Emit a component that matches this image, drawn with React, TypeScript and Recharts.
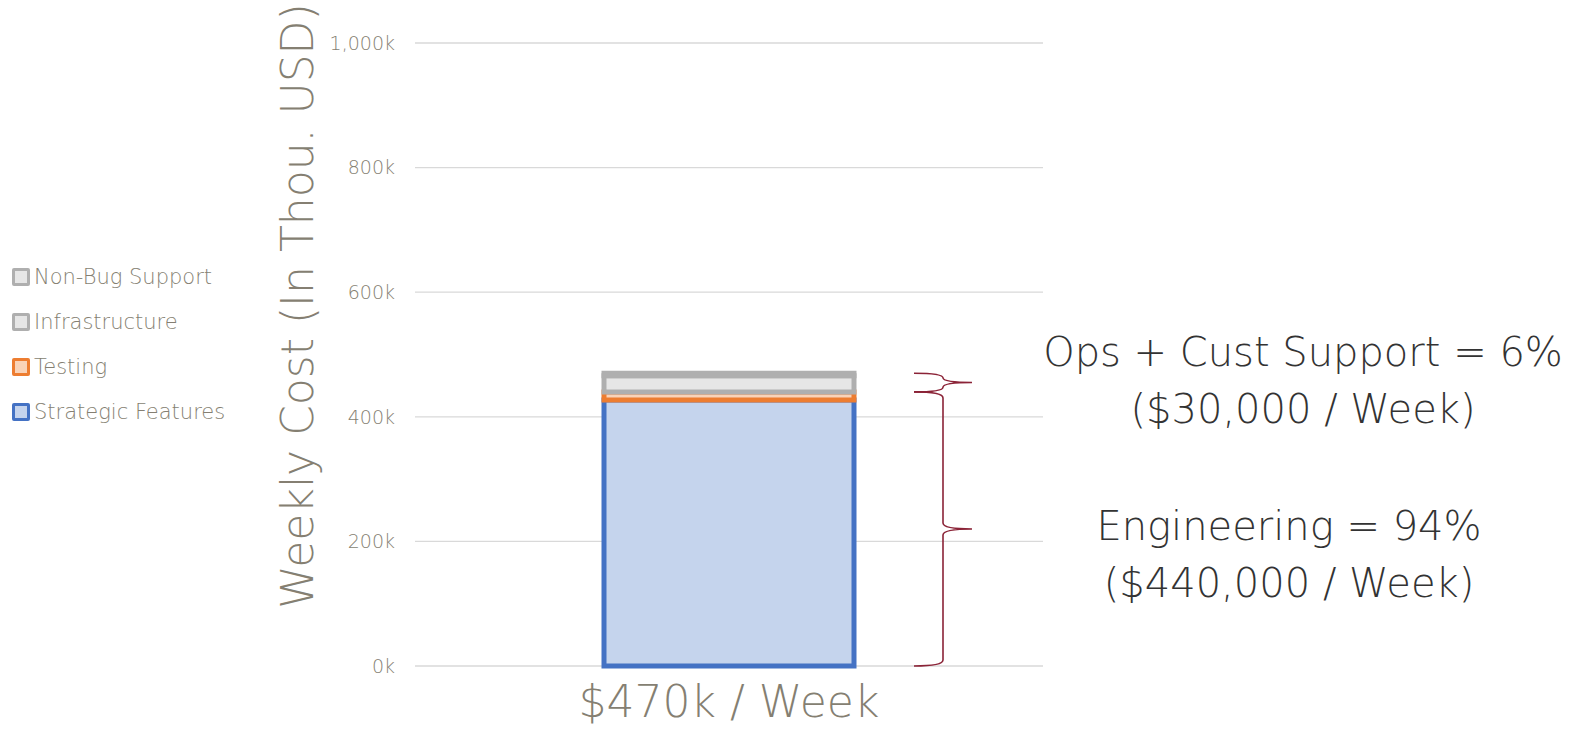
import React from "react";
import {
  BarChart,
  Bar,
  XAxis,
  YAxis,
  CartesianGrid,
  ReferenceArea,
} from "recharts";

const categories = ["$470k / Week"];
const strategicFeatures = [427];
const testing = [13];
const infrastructure = [26];
const nonBugSupport = [4];
const yTicks = [0, 200, 400, 600, 800, 1000];

const series = [
  { key: "strategic", name: "Strategic Features", values: strategicFeatures, stroke: "#4472c4", fill: "#c5d4ed" },
  { key: "testing", name: "Testing", values: testing, stroke: "#ed7d31", fill: "#f9d3b8" },
  { key: "infra", name: "Infrastructure", values: infrastructure, stroke: "#afafaf", fill: "#e6e6e6" },
  { key: "nonbug", name: "Non-Bug Support", values: nonBugSupport, stroke: "#afafaf", fill: "#e6e6e6" },
];

const data = categories.map((c, i) => {
  const row: Record<string, string | number> = { cat: c };
  series.forEach((s) => (row[s.key] = s.values[i]));
  return row;
});

const total = series.reduce((a, s) => a + s.values[0], 0);
const engineering = strategicFeatures[0] + testing[0];

const FONT = "'DejaVu Sans', sans-serif";
const WEIGHT = 200;
const GREY_TEXT = "#857f72";
const BRACE = "#8b2337";

function bracePath(x0: number, xm: number, xt: number, y1: number, y2: number) {
  const ym = (y1 + y2) / 2;
  const r = Math.min(6, (y2 - y1) / 4);
  return [
    `M ${x0} ${y1}`,
    `Q ${xm} ${y1} ${xm} ${y1 + r}`,
    `L ${xm} ${ym - r}`,
    `Q ${xm} ${ym} ${xt} ${ym}`,
    `Q ${xm} ${ym} ${xm} ${ym + r}`,
    `L ${xm} ${y2 - r}`,
    `Q ${xm} ${y2} ${x0} ${y2}`,
  ].join(" ");
}

// brace on the right of the plot plus its note text
function makeBrace(lines: string[], offsets: number[], textDx: number) {
  return (props: any) => {
    const { x, y, width, height } = props;
    const right = x + width;
    const x0 = right - 129;
    const xm = right - 100;
    const xt = right - 71;
    const ym = y + height / 2;
    return (
      <g>
        <path d={bracePath(x0, xm, xt, y, y + height)} fill="none" stroke={BRACE} strokeWidth={1.6} />
        {lines.map((t, i) => (
          <text
            key={i}
            x={right + textDx}
            y={ym + offsets[i]}
            textAnchor="middle"
            fontFamily={FONT}
            fontWeight={WEIGHT}
            fontSize={40}
            fill="#333333"
          >
            {t}
          </text>
        ))}
      </g>
    );
  };
}

function ChartLegend() {
  const items = [...series].reverse();
  return (
    <div style={{ position: "absolute", left: 12, top: 254, fontFamily: FONT, fontWeight: WEIGHT }}>
      {items.map((s) => (
        <div key={s.key} style={{ display: "flex", alignItems: "center", height: 45 }}>
          <span
            style={{
              width: 12,
              height: 12,
              border: `3px solid ${s.stroke}`,
              background: s.fill,
              borderRadius: 2,
              marginRight: 4,
            }}
          />
          <span style={{ fontSize: 21, color: GREY_TEXT }}>{s.name}</span>
        </div>
      ))}
    </div>
  );
}

export default function App() {
  return (
    <div style={{ position: "absolute", left: 0, top: 0, width: 1569, height: 729, background: "#fff" }}>
      <BarChart
        width={1569}
        height={729}
        data={data}
        margin={{ top: 43, right: 526, bottom: 0, left: 325 }}
      >
        <CartesianGrid vertical={false} stroke="#d9d9d9" strokeWidth={1.3} />
        <XAxis
          dataKey="cat"
          height={63}
          axisLine={false}
          tickLine={false}
          tickMargin={14}
          tick={{ fontSize: 44, fill: GREY_TEXT, fontFamily: FONT, fontWeight: WEIGHT }}
        />
        <YAxis
          width={90}
          domain={[0, 1000]}
          ticks={yTicks}
          axisLine={false}
          tickLine={false}
          tickSize={0}
          tickMargin={20}
          tickFormatter={(v: number) => `${v.toLocaleString("en-US")}k`}
          tick={{ fontSize: 19, fill: GREY_TEXT, fontFamily: FONT, fontWeight: WEIGHT }}
          label={{
            content: () => (
              <text
                x={297}
                y={306}
                transform="rotate(-90 297 306)"
                textAnchor="middle"
                dominantBaseline="central"
                fontFamily={FONT}
                fontWeight={WEIGHT}
                fontSize={44}
                fill={GREY_TEXT}
              >
                Weekly Cost (In Thou. USD)
              </text>
            ),
          }}
        />
        {series.map((s) => (
          <Bar
            key={s.key}
            dataKey={s.key}
            name={s.name}
            stackId="a"
            barSize={250}
            fill={s.fill}
            stroke={s.stroke}
            strokeWidth={5}
            isAnimationActive={false}
          />
        ))}
        <ReferenceArea
          y1={engineering}
          y2={total}
          fill="none"
          stroke="none"
          shape={makeBrace(["Ops + Cust Support = 6%", "($30,000 / Week)"], [-17, 40], 260)}
        />
        <ReferenceArea
          y1={0}
          y2={engineering}
          fill="none"
          stroke="none"
          shape={makeBrace(["Engineering = 94%", "($440,000 / Week)"], [11, 68], 246)}
        />
      </BarChart>
      <ChartLegend />
    </div>
  );
}
